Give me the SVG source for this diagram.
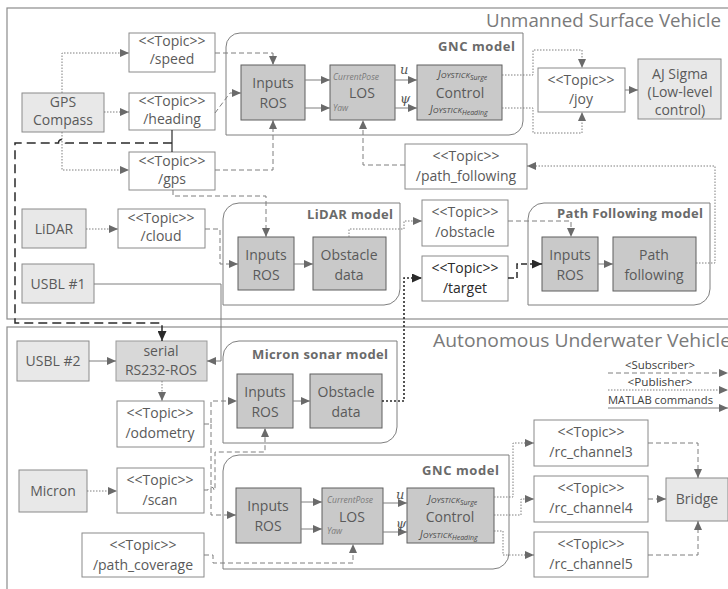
<svg xmlns="http://www.w3.org/2000/svg" width="728" height="589" viewBox="0 0 728 589">
<style>
  .frame{fill:none;stroke:#8c8c8c;stroke-width:1.2}
  .title{font-family:"Open Sans","Liberation Sans",sans-serif;font-size:18px;fill:#7a7a7a}
  .topic{fill:#ffffff;stroke:#8a8a8a;stroke-width:1}
  .sensor{fill:#e8e8e8;stroke:#8a8a8a;stroke-width:1}
  .serial{fill:#d8d8d8;stroke:#9a9a9a;stroke-width:1}
  .block{fill:#c9c9c9;stroke:#5f5f5f;stroke-width:1}
  .model{fill:none;stroke:#7f7f7f;stroke-width:1}
  .t{font-family:"Open Sans","Liberation Sans",sans-serif;font-size:14px;fill:#5a5a5a;text-anchor:middle}
  .tk{fill:#2a2a2a}
  .ml{font-family:"Open Sans","Liberation Sans",sans-serif;font-size:13px;font-weight:bold;fill:#6a6a6a;text-anchor:end}
  .sm{font-family:"Open Sans","Liberation Sans",sans-serif;font-style:italic;fill:#7a7a7a}
  .jy{font-family:"Open Sans","Liberation Sans",sans-serif;font-style:italic;fill:#4a4a4a}
  .gr{font-family:"DejaVu Serif","Liberation Serif",serif;font-style:italic;font-size:13px;fill:#555}
  .lg{font-family:"Open Sans","Liberation Sans",sans-serif;font-size:11px;fill:#404040}
  .c{fill:none;stroke:#7f7f7f;stroke-width:1}
  .sub{stroke-dasharray:5 3}
  .pub{stroke-dasharray:1.5 1.5}
  .a{marker-end:url(#ah)}
</style>
<defs>
  <marker id="ah" markerUnits="userSpaceOnUse" markerWidth="9" markerHeight="8" refX="9" refY="4" orient="auto">
    <path d="M0,0 L9,4 L0,8 Z" fill="#6a6a6a"/>
  </marker>
  <marker id="ahk" markerUnits="userSpaceOnUse" markerWidth="10" markerHeight="9" refX="10" refY="4.5" orient="auto">
    <path d="M0,0 L10,4.5 L0,9 Z" fill="#2a2a2a"/>
  </marker>
</defs>

<!-- vehicle frames -->
<g id="usv-frame">
  <rect class="frame" x="7" y="8" width="730" height="311"/>
  <text class="title" x="486" y="27" textLength="235" lengthAdjust="spacingAndGlyphs">Unmanned Surface Vehicle</text>
</g>
<g id="auv-frame">
  <rect class="frame" x="7" y="327" width="730" height="275"/>
  <text class="title" x="433" y="347" textLength="298" lengthAdjust="spacingAndGlyphs">Autonomous Underwater Vehicle</text>
</g>

<!-- model containers -->
<g id="usv-gnc-model">
  <path class="model" d="M226,47 A14,14 0 0 1 240,33 H523 V121 A14,14 0 0 1 509,135 H226 Z"/>
  <text class="ml" x="515" y="51" textLength="77" lengthAdjust="spacing">GNC model</text>
</g>
<g id="lidar-model">
  <path class="model" d="M223,219 A16,16 0 0 1 239,203 H400 V289 A16,16 0 0 1 384,305 H223 Z"/>
  <text class="ml" x="393" y="219" textLength="86" lengthAdjust="spacing">LiDAR model</text>
</g>
<g id="path-following-model">
  <path class="model" d="M528,219 A16,16 0 0 1 544,203 H710 V289 A16,16 0 0 1 694,305 H528 Z"/>
  <text class="ml" x="703" y="218" textLength="146" lengthAdjust="spacing">Path Following model</text>
</g>
<g id="micron-sonar-model">
  <path class="model" d="M223,357 A16,16 0 0 1 239,341 H397 V427 A16,16 0 0 1 381,443 H223 Z"/>
  <text class="ml" x="388" y="359" textLength="136" lengthAdjust="spacing">Micron sonar model</text>
</g>
<g id="auv-gnc-model">
  <path class="model" d="M223,471 A16,16 0 0 1 239,455 H509 V553 A16,16 0 0 1 493,569 H223 Z"/>
  <text class="ml" x="499" y="475" textLength="77" lengthAdjust="spacing">GNC model</text>
</g>

<!-- USV nodes -->
<g id="gps-compass">
  <rect class="sensor" x="22" y="93" width="82" height="39"/>
  <text class="t" x="63" y="107">GPS</text><text class="t" x="63" y="125">Compass</text>
</g>
<g id="topic-speed">
  <rect class="topic" x="129" y="33" width="86" height="39"/>
  <text class="t" x="172" y="46">&lt;&lt;Topic&gt;&gt;</text><text class="t" x="172" y="64">/speed</text>
</g>
<g id="topic-heading">
  <rect class="topic" x="129" y="93" width="86" height="37"/>
  <text class="t" x="172" y="106">&lt;&lt;Topic&gt;&gt;</text><text class="t" x="172" y="124">/heading</text>
</g>
<g id="topic-gps">
  <rect class="topic" x="129" y="152" width="86" height="38"/>
  <text class="t" x="172" y="166">&lt;&lt;Topic&gt;&gt;</text><text class="t" x="172" y="184">/gps</text>
</g>
<g id="usv-inputs-ros">
  <rect class="block" x="241" y="65" width="64" height="55"/>
  <text class="t" x="273" y="88">Inputs</text><text class="t" x="273" y="108">ROS</text>
</g>
<g id="usv-los">
  <rect class="block" x="330" y="65" width="65" height="55"/>
  <text class="sm" x="333" y="80" font-size="8.5">CurrentPose</text>
  <text class="t" x="362" y="98">LOS</text>
  <text class="sm" x="333" y="111" font-size="8.5">Yaw</text>
</g>
<g id="usv-control">
  <rect class="block" x="417" y="65" width="85" height="55"/>
  <text class="jy" x="438" y="78"><tspan font-size="10">J</tspan><tspan font-size="8">OYSTICK</tspan><tspan font-size="7" dy="1.5">Surge</tspan></text>
  <text class="t" x="460" y="98">Control</text>
  <text class="jy" x="430" y="113"><tspan font-size="10">J</tspan><tspan font-size="8">OYSTICK</tspan><tspan font-size="7" dy="1.5">Heading</tspan></text>
</g>
<g id="topic-joy">
  <rect class="topic" x="538" y="68" width="87" height="44"/>
  <text class="t" x="581" y="85">&lt;&lt;Topic&gt;&gt;</text><text class="t" x="581" y="104">/joy</text>
</g>
<g id="aj-sigma">
  <rect class="sensor" x="638" y="59" width="83" height="60"/>
  <text class="t" x="680" y="79">AJ Sigma</text><text class="t" x="680" y="97">(Low-level</text><text class="t" x="680" y="115">control)</text>
</g>
<g id="topic-path-following">
  <rect class="topic" x="405" y="144" width="122" height="45"/>
  <text class="t" x="466" y="161">&lt;&lt;Topic&gt;&gt;</text><text class="t" x="466" y="181">/path_following</text>
</g>
<g id="lidar">
  <rect class="sensor" x="22" y="209" width="64" height="39"/>
  <text class="t" x="54" y="234">LiDAR</text>
</g>
<g id="topic-cloud">
  <rect class="topic" x="118" y="209" width="87" height="39"/>
  <text class="t" x="161" y="223">&lt;&lt;Topic&gt;&gt;</text><text class="t" x="161" y="241">/cloud</text>
</g>
<g id="usbl-1">
  <rect class="sensor" x="22" y="264" width="72" height="39"/>
  <text class="t" x="58" y="289">USBL #1</text>
</g>
<g id="lidar-inputs-ros">
  <rect class="block" x="238" y="237" width="56" height="53"/>
  <text class="t" x="266" y="260">Inputs</text><text class="t" x="266" y="280">ROS</text>
</g>
<g id="lidar-obstacle-data">
  <rect class="block" x="313" y="237" width="73" height="53"/>
  <text class="t" x="349" y="260">Obstacle</text><text class="t" x="349" y="280">data</text>
</g>
<g id="topic-obstacle">
  <rect class="topic" x="422" y="200" width="86" height="46"/>
  <text class="t" x="465" y="217">&lt;&lt;Topic&gt;&gt;</text><text class="t" x="465" y="237">/obstacle</text>
</g>
<g id="topic-target">
  <rect class="topic" x="422" y="256" width="86" height="45" stroke="#404040"/>
  <text class="t tk" x="465" y="273">&lt;&lt;Topic&gt;&gt;</text><text class="t tk" x="465" y="293">/target</text>
</g>
<g id="pf-inputs-ros">
  <rect class="block" x="542" y="237" width="56" height="54"/>
  <text class="t" x="570" y="260">Inputs</text><text class="t" x="570" y="280">ROS</text>
</g>
<g id="path-following">
  <rect class="block" x="613" y="237" width="83" height="54"/>
  <text class="t" x="654" y="260">Path</text><text class="t" x="654" y="280">following</text>
</g>

<!-- AUV nodes -->
<g id="usbl-2">
  <rect class="sensor" x="17" y="341" width="72" height="40"/>
  <text class="t" x="53" y="366">USBL #2</text>
</g>
<g id="serial-rs232-ros">
  <rect class="serial" x="116" y="341" width="91" height="40"/>
  <text class="t" x="161" y="356">serial</text><text class="t" x="161" y="375">RS232-ROS</text>
</g>
<g id="topic-odometry">
  <rect class="topic" x="117" y="401" width="87" height="46"/>
  <text class="t" x="160" y="418">&lt;&lt;Topic&gt;&gt;</text><text class="t" x="160" y="438">/odometry</text>
</g>
<g id="micron-inputs-ros">
  <rect class="block" x="237" y="374" width="56" height="54"/>
  <text class="t" x="265" y="397">Inputs</text><text class="t" x="265" y="417">ROS</text>
</g>
<g id="micron-obstacle-data">
  <rect class="block" x="310" y="374" width="72" height="54"/>
  <text class="t" x="346" y="397">Obstacle</text><text class="t" x="346" y="417">data</text>
</g>
<g id="micron">
  <rect class="sensor" x="19" y="470" width="68" height="42"/>
  <text class="t" x="53" y="496">Micron</text>
</g>
<g id="topic-scan">
  <rect class="topic" x="117" y="468" width="87" height="45"/>
  <text class="t" x="160" y="485">&lt;&lt;Topic&gt;&gt;</text><text class="t" x="160" y="505">/scan</text>
</g>
<g id="topic-path-coverage">
  <rect class="topic" x="82" y="533" width="122" height="44"/>
  <text class="t" x="143" y="550">&lt;&lt;Topic&gt;&gt;</text><text class="t" x="143" y="570">/path_coverage</text>
</g>
<g id="auv-inputs-ros">
  <rect class="block" x="236" y="488" width="65" height="55"/>
  <text class="t" x="268" y="511">Inputs</text><text class="t" x="268" y="531">ROS</text>
</g>
<g id="auv-los">
  <rect class="block" x="322" y="488" width="61" height="56"/>
  <text class="sm" x="327" y="503" font-size="8.5">CurrentPose</text>
  <text class="t" x="352" y="522">LOS</text>
  <text class="sm" x="327" y="534" font-size="8.5">Yaw</text>
</g>
<g id="auv-control">
  <rect class="block" x="407" y="488" width="87" height="55"/>
  <text class="jy" x="428" y="503"><tspan font-size="10">J</tspan><tspan font-size="8">OYSTICK</tspan><tspan font-size="7" dy="1.5">Surge</tspan></text>
  <text class="t" x="450" y="522">Control</text>
  <text class="jy" x="420" y="538"><tspan font-size="10">J</tspan><tspan font-size="8">OYSTICK</tspan><tspan font-size="7" dy="1.5">Heading</tspan></text>
</g>
<g id="topic-rc-channel3">
  <rect class="topic" x="534" y="420" width="114" height="46"/>
  <text class="t" x="591" y="437">&lt;&lt;Topic&gt;&gt;</text><text class="t" x="591" y="457">/rc_channel3</text>
</g>
<g id="topic-rc-channel4">
  <rect class="topic" x="534" y="476" width="114" height="46"/>
  <text class="t" x="591" y="493">&lt;&lt;Topic&gt;&gt;</text><text class="t" x="591" y="513">/rc_channel4</text>
</g>
<g id="topic-rc-channel5">
  <rect class="topic" x="534" y="532" width="114" height="45"/>
  <text class="t" x="591" y="549">&lt;&lt;Topic&gt;&gt;</text><text class="t" x="591" y="569">/rc_channel5</text>
</g>
<g id="bridge">
  <rect class="sensor" x="666" y="478" width="62" height="43"/>
  <text class="t" x="697" y="504">Bridge</text>
</g>

<!-- connectors -->
<g id="connectors">
  <!-- GPS compass publishers -->
  <path class="c pub a" d="M62,93 V53 H129"/>
  <path class="c pub a" d="M104,112 H129"/>
  <path class="c pub a" d="M62,132 V170 H129"/>
  <!-- USV GNC subscriptions -->
  <path class="c sub a" d="M215,53 H273 V65"/>
  <path class="c sub a" d="M215,113 L230,93 H241"/>
  <path class="c sub a" d="M215,170 H273 V120"/>
  <path class="c sub a" d="M173,190 V196 H266 V237"/>
  <path class="c sub a" d="M405,165 H363 V120"/>
  <!-- USV GNC internals -->
  <path class="c a" d="M305,80 H330"/>
  <path class="c a" d="M305,108 H330"/>
  <path class="c a" d="M395,80 H417"/>
  <path class="c a" d="M395,108 H417"/>
  <text class="gr" x="400" y="74">u</text>
  <text class="gr" x="400" y="103">ψ</text>
  <!-- joystick commands -->
  <path class="c pub a" d="M502,75 H533 V50 H582 V68"/>
  <path class="c pub a" d="M502,108 H533 V133 H582 V112"/>
  <path class="c a" d="M625,90 H638"/>
  <!-- path following loop -->
  <path class="c pub a" d="M696,263 H715 V166 H527"/>
  <!-- LiDAR chain -->
  <path class="c pub a" d="M86,229 H118"/>
  <path class="c sub a" d="M205,229 H220 V264 H238"/>
  <path class="c a" d="M294,264 H313"/>
  <path class="c pub a" d="M349,237 V229 H404 V221 H422"/>
  <path class="c sub a" d="M508,221 H571 V237"/>
  <path class="c a" d="M598,264 H613"/>
  <path d="M508,278 H517 V264 H542" fill="none" stroke="#2a2a2a" stroke-width="1.5" stroke-dasharray="6 3" marker-end="url(#ahk)"/>
  <!-- sonar obstacles to target -->
  <path d="M382,401 H404 V278 H422" fill="none" stroke="#2a2a2a" stroke-width="1.6" stroke-dasharray="2 2" marker-end="url(#ahk)"/>
  <!-- USV position to serial link -->
  <path d="M172,130 V152" fill="none" stroke="#2a2a2a" stroke-width="1.2"/>
  <path d="M172,143 H65.5 A3.5,3.5 0 0 0 58.5,143 H15 V323 H162 V341" fill="none" stroke="#2a2a2a" stroke-width="1.5" stroke-dasharray="9 5" marker-end="url(#ahk)"/>
  <path class="c a" d="M94,284 H221 V361 H207"/>
  <!-- AUV chain -->
  <path class="c a" d="M89,361 H116"/>
  <path class="c pub a" d="M162,381 V401"/>
  <path class="c sub a" d="M204,424 H211 V401 H237"/>
  <path class="c sub a" d="M211,424 V515 H236"/>
  <path class="c a" d="M293,401 H310"/>
  <path class="c pub a" d="M87,491 H117"/>
  <path class="c sub a" d="M204,490 H208 A3,3 0 0 1 214,490 H215 V452 H265 V428"/>
  <path class="c sub a" d="M204,555 H213 V563 H353 V544"/>
  <!-- AUV GNC internals -->
  <path class="c a" d="M301,502 H322"/>
  <path class="c a" d="M301,529 H322"/>
  <path class="c a" d="M383,503 H407"/>
  <path class="c a" d="M383,532 H407"/>
  <text class="gr" x="396" y="499">u</text>
  <text class="gr" x="396" y="528">ψ</text>
  <!-- RC channels -->
  <path class="c pub a" d="M494,497 H513 V443 H534"/>
  <path class="c pub a" d="M494,515 H521 V499 H534"/>
  <path class="c pub a" d="M494,531 H503 V555 H534"/>
  <path class="c sub a" d="M648,443 H698 V478"/>
  <path class="c sub a" d="M648,499 H666"/>
  <path class="c sub a" d="M648,555 H698 V521"/>
</g>

<!-- legend -->
<g id="legend">
  <text class="lg" x="660" y="369" text-anchor="middle" textLength="70" lengthAdjust="spacingAndGlyphs">&lt;Subscriber&gt;</text>
  <path class="c sub a" d="M608,373 H728" stroke="#404040"/>
  <text class="lg" x="660" y="386" text-anchor="middle" textLength="65" lengthAdjust="spacingAndGlyphs">&lt;Publisher&gt;</text>
  <path class="c pub a" d="M608,390 H728" stroke="#404040"/>
  <text class="lg" x="608" y="404" textLength="105" lengthAdjust="spacingAndGlyphs">MATLAB commands</text>
  <path class="c a" d="M608,408 H728" stroke="#404040"/>
</g>
</svg>
